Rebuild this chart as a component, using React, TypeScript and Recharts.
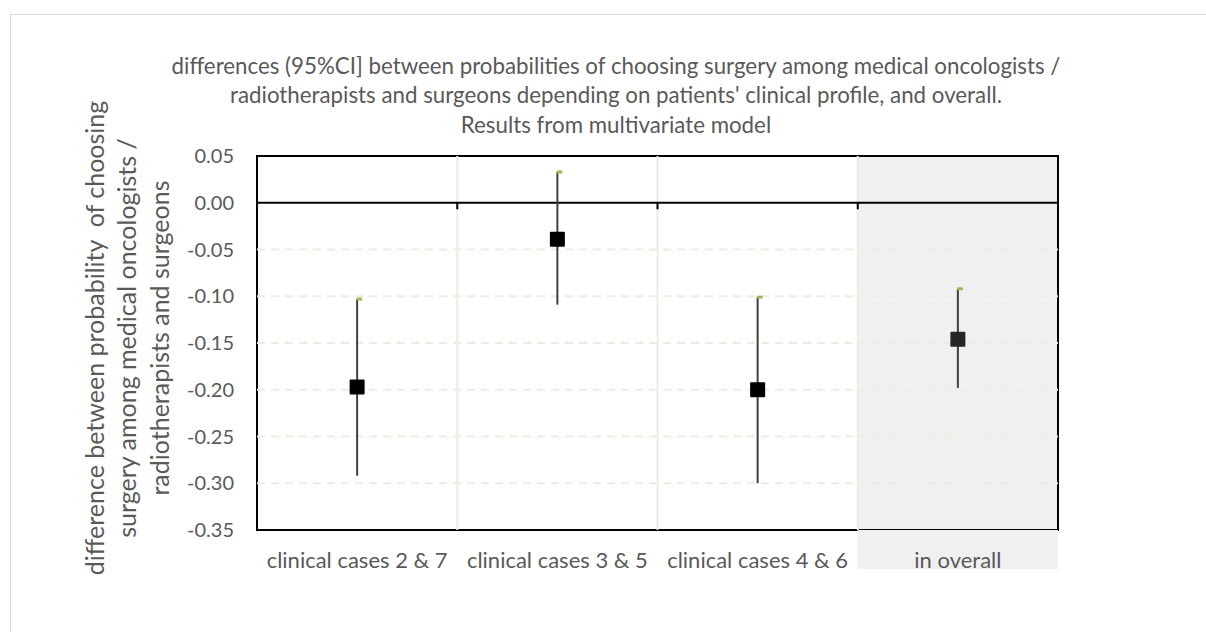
import { ComposedChart, Line, XAxis, YAxis, ReferenceLine, ReferenceArea, ErrorBar } from 'recharts'

const categories = ['clinical cases 2 & 7', 'clinical cases 3 & 5', 'clinical cases 4 & 6', 'in overall']
const estimate = [-0.197, -0.039, -0.200, -0.146]
const lower = [-0.292, -0.109, -0.300, -0.198]
const upper = [-0.103, 0.033, -0.101, -0.092]
const yTicks = [0.05, 0, -0.05, -0.1, -0.15, -0.2, -0.25, -0.3, -0.35]

const titleLines = [
  'differences (95%CI] between probabilities of choosing surgery among medical oncologists /',
  "radiotherapists and surgeons depending on patients' clinical profile, and overall.",
  'Results from multivariate model'
]
const yLabelLines = [
  'difference between probability  of choosing',
  'surgery among medical oncologists /',
  'radiotherapists and surgeons'
]

const FONT = 'Lato, "Open Sans", sans-serif'
const TEXT = '#595959'
const GRID = '#eeece1'

const data = categories.map((name, i) => ({
  name,
  est: estimate[i],
  hi: upper[i],
  err: [estimate[i] - lower[i], upper[i] - estimate[i]]
}))

// category boundaries: start of every band except the first
const boundaries = categories.slice(1)
const innerTicks = yTicks.filter(t => t !== 0 && t !== yTicks[0] && t !== yTicks[yTicks.length - 1])
const yMin = yTicks[yTicks.length - 1]
const yMax = yTicks[0]

function SquareDot(props: any) {
  const { cx, cy, index } = props
  if (cx == null || cy == null) return null
  return <rect x={cx - 7.5} y={cy - 7.5} width={15} height={15} rx={1} fill={index === categories.length - 1 ? '#262626' : '#000'} />
}

function CapDot(props: any) {
  const { cx, cy } = props
  if (cx == null || cy == null) return null
  return <rect x={cx - 0.5} y={cy - 1.5} width={5.5} height={3} fill="#9bbb59" />
}

function CategoryTick(props: any) {
  const { x, y, payload, width } = props
  const half = payload?.offset || (width ? width / categories.length / 2 : 100)
  const isOverall = payload.value === categories[categories.length - 1]
  return (
    <g>
      {isOverall && <rect x={x - half} y={y - 22} width={half * 2} height={39} fill="#f0f0f0" />}
      <text x={x} y={y} dy="0.71em" textAnchor="middle" fill={TEXT} fontSize={22} fontFamily={FONT}>
        {payload.value}
      </text>
    </g>
  )
}

function YLabel(props: any) {
  const { viewBox } = props
  const cy = viewBox.y + viewBox.height / 2 - 5
  const xs = [93.5, 126, 158.5]
  return (
    <g>
      {yLabelLines.map((line, i) => (
        <text key={i} x={xs[i]} y={cy} transform={`rotate(-90 ${xs[i]} ${cy})`} textAnchor="middle"
          dominantBaseline="central" fill={TEXT} fontSize={25} fontFamily={FONT} style={{ whiteSpace: 'pre' }}>
          {line}
        </text>
      ))}
    </g>
  )
}

export default function App() {
  return (
    <div style={{ position: 'absolute', left: 0, top: 0, width: 1206, height: 632, overflow: 'hidden', background: '#fff' }}>
      <div style={{ position: 'absolute', left: 10, top: 14, width: 1400, height: 800, border: '1px solid #d9d9d9' }} />
      <div style={{ position: 'absolute', left: 10, top: 51, width: 1212, textAlign: 'center', fontFamily: FONT, fontSize: 22.3, lineHeight: '29.4px', color: TEXT }}>
        {titleLines.map((l, i) => <div key={i}>{l}</div>)}
      </div>
      <div style={{ position: 'absolute', left: 0, top: 0 }}>
        <ComposedChart width={1206} height={632} data={data} margin={{ top: 156, right: 148, bottom: 42, left: 0 }}>
          <XAxis dataKey="name" type="category" scale="band" height={60} axisLine={false} tickLine={false}
            tickSize={0} tickMargin={22} tick={<CategoryTick />} interval={0} />
          <YAxis width={257} domain={[yMin, yMax]} ticks={yTicks} type="number"
            allowDataOverflow axisLine={false} tickLine={false} tickSize={0} tickMargin={23}
            tickFormatter={(v: number) => (Math.abs(v) < 1e-9 ? 0 : v).toFixed(2)}
            tick={{ fill: TEXT, fontSize: 20, fontFamily: FONT }}
            label={{ content: (p: any) => <YLabel {...p} /> }} />
          <ReferenceArea x1={categories[categories.length - 1]} x2={categories[categories.length - 1]}
            y1={yMin} y2={yMax} fill="#f0f0f0" fillOpacity={1} stroke="none" />
          {innerTicks.map(t => (
            <ReferenceLine key={t} y={t} stroke={GRID} strokeWidth={2} strokeDasharray="8 6" />
          ))}
          {boundaries.map(b => (
            <ReferenceLine key={'v' + b} x={b} position="start" stroke={GRID} strokeWidth={2} />
          ))}
          <ReferenceLine y={0} stroke="#000" strokeWidth={2} />
          {boundaries.map(b => (
            <ReferenceLine key={'t' + b} position="start" segment={[{ x: b, y: 0 }, { x: b, y: -0.007 }]} stroke="#000" strokeWidth={2} />
          ))}
          <ReferenceArea x1={categories[0]} x2={categories[categories.length - 1]} y1={yMin} y2={yMax}
            fill="none" stroke="#000" strokeWidth={2} />
          <Line dataKey="est" stroke="none" isAnimationActive={false} dot={<SquareDot />} activeDot={false}>
            <ErrorBar dataKey="err" direction="y" width={0} stroke="#404040" strokeWidth={2} isAnimationActive={false} />
          </Line>
          <Line dataKey="hi" stroke="none" isAnimationActive={false} dot={<CapDot />} activeDot={false} />
        </ComposedChart>
      </div>
    </div>
  )
}
